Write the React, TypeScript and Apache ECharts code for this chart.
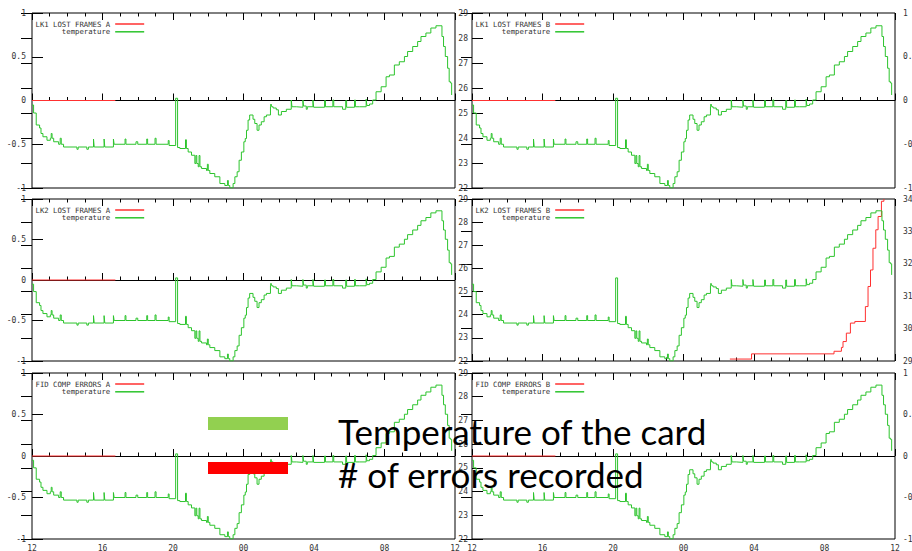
import React, { useEffect, useRef } from 'react';
import * as echarts from 'echarts';

// ---------- data ----------
const hourTickLabels = ['12', '16', '20', '00', '04', '08', '12'];

const panelNames = [
  'LK1 LOST FRAMES A',
  'LK1 LOST FRAMES B',
  'LK2 LOST FRAMES A',
  'LK2 LOST FRAMES B',
  'FID COMP ERRORS A',
  'FID COMP ERRORS B',
];

// hours since 12:00, card temperature (°C)
const temperature: [number, number][] = [
  [0, 25.32], [0.09, 25.0], [0.24, 24.52], [0.43, 24.4], [0.51, 24.18], [0.62, 24.05],
  [0.85, 23.91], [1.04, 23.99], [1.09, 24.18], [1.14, 23.99], [1.23, 23.85], [1.51, 23.75],
  [1.6, 23.99], [1.66, 23.75], [1.79, 23.64], [2.55, 23.55], [2.62, 23.64], [3.11, 23.55],
  [3.2, 23.64], [3.49, 23.96], [3.53, 23.64], [4.09, 23.96], [4.13, 23.64], [4.62, 23.96],
  [4.66, 23.75], [5.28, 23.96], [5.33, 23.75], [5.9, 23.85], [6.0, 23.75], [6.51, 23.96],
  [6.56, 23.75], [6.98, 23.99], [7.04, 23.75], [7.73, 23.9], [7.78, 23.7], [8.15, 25.59],
  [8.26, 23.62], [8.39, 23.58], [8.71, 23.93], [8.76, 23.58], [8.86, 23.44], [9.05, 23.31],
  [9.24, 22.98], [9.3, 23.3], [9.35, 22.98], [9.43, 22.85], [9.48, 23.3], [9.53, 22.85],
  [9.62, 22.78], [9.9, 22.7], [9.95, 22.95], [10.0, 22.7], [10.09, 22.58], [10.37, 22.45],
  [10.66, 22.18], [10.94, 22.1], [11.09, 22.3], [11.14, 22.1], [11.22, 22.0], [11.41, 22.18],
  [11.51, 22.45], [11.64, 22.65], [11.75, 23.11], [11.88, 23.44], [12.02, 23.85], [12.1, 23.98],
  [12.17, 24.31], [12.26, 24.72], [12.35, 24.92], [12.54, 24.75], [12.64, 24.58], [12.77, 24.31],
  [12.88, 24.52], [13.01, 24.65], [13.17, 24.85], [13.3, 24.92], [13.53, 25.25], [13.56, 25.36],
  [13.6, 25.25], [13.68, 25.2], [13.86, 25.13], [13.98, 24.92], [14.15, 25.06], [14.43, 25.15],
  [14.71, 25.52], [14.75, 25.25], [15.0, 25.23], [15.37, 25.52], [15.41, 25.28], [15.56, 25.15],
  [15.62, 25.25], [15.94, 25.52], [15.98, 25.23], [16.6, 25.5], [16.65, 25.25], [17.07, 25.52],
  [17.12, 25.25], [17.62, 25.15], [17.8, 25.5], [17.85, 25.23], [18.3, 25.52], [18.35, 25.25],
  [18.58, 25.25], [18.96, 25.55], [19.0, 25.3], [19.15, 25.36], [19.33, 25.52], [19.52, 25.85],
  [19.81, 26.05], [20.09, 26.45], [20.28, 26.52], [20.56, 26.92], [20.84, 27.05], [21.13, 27.26],
  [21.31, 27.46], [21.6, 27.66], [21.88, 27.86], [22.07, 28.06], [22.35, 28.2], [22.63, 28.4],
  [22.92, 28.49], [23.15, 28.49], [23.26, 28.06], [23.35, 27.66], [23.45, 27.26], [23.58, 26.79],
  [23.67, 26.25], [23.75, 26.2], [23.81, 25.72],
];

// error counters (hours since 12:00, value)
const idleErrors: [number, number][] = [[0, 0], [4.73, 0]];
const lk2LostFramesB: [number, number][] = [
  [14.63, 29.06], [15.86, 29.22], [20.54, 29.3], [20.96, 29.42], [21.05, 29.6], [21.24, 29.86],
  [21.47, 30.17], [21.72, 30.22], [22.32, 30.68], [22.47, 31.3], [22.61, 31.81], [22.75, 32.48],
  [22.91, 33.05], [23.04, 33.46], [23.23, 33.93], [23.37, 34.0],
];

// ---------- layout / style ----------
const colLeft = [32, 472];
const plotW = 423;
const rows = [
  { top: 13, h: 175 },
  { top: 199, h: 162 },
  { top: 373, h: 166 },
];
const GREEN = '#2dc42d';
const RED = '#ff3030';
const labelFont = { fontFamily: 'DejaVu Sans Mono', fontSize: 8, color: '#333' };

function buildOption() {
  const grid: any[] = [];
  const xAxis: any[] = [];
  const yAxis: any[] = [];
  const series: any[] = [];
  const legend: any[] = [];

  panelNames.forEach((name, i) => {
    const r = Math.floor(i / 2);
    const c = i % 2;
    const left = colLeft[c];
    const { top, h } = rows[r];
    grid.push({
      left, top, width: plotW, height: h, show: true, borderColor: '#000', borderWidth: 1,
      backgroundColor: 'transparent', containLabel: false, outerBoundsMode: 'none',
    });

    const xBase = {
      type: 'value', gridIndex: i, min: 0, max: 24, interval: 4,
      axisLine: { show: false },
      axisTick: { show: true, inside: true, length: 7, lineStyle: { color: '#000' } },
      minorTick: { show: true, splitNumber: 4, length: 3.5, lineStyle: { color: '#000' } },
      splitLine: { show: false },
      minorSplitLine: { show: false },
    };
    xAxis.push({
      ...xBase, position: 'bottom',
      axisLabel: {
        show: r === 2, margin: 5, ...labelFont,
        formatter: (v: number) => hourTickLabels[Math.round(v / 4)],
      },
    });
    xAxis.push({ ...xBase, position: 'top', axisLabel: { show: false } });

    const tickStyle = { show: true, inside: true, length: 11, lineStyle: { color: '#000' } };
    const tempAxis = (pos: string, showLabel: boolean) => ({
      type: 'value', gridIndex: i, position: pos, min: 22, max: 29, interval: 1,
      axisLine: { show: false }, axisTick: tickStyle, splitLine: { show: false },
      axisLabel: { show: showLabel, margin: 4, ...labelFont },
    });
    const errAxis = (pos: string, isCount: boolean, margin: number) => ({
      type: 'value', gridIndex: i, position: pos,
      min: isCount ? 29 : -1, max: isCount ? 34 : 1, interval: isCount ? 1 : 0.5,
      axisLine: { show: false }, axisTick: tickStyle, splitLine: { show: false },
      axisLabel: { show: true, margin, ...labelFont },
    });

    const isCount = i === 3;
    let errIdx: number, tempIdx: number;
    if (c === 0) {
      yAxis.push(errAxis('left', false, 6));
      yAxis.push(tempAxis('right', false));
      errIdx = 2 * i; tempIdx = 2 * i + 1;
    } else {
      yAxis.push(tempAxis('left', true));
      yAxis.push(errAxis('right', isCount, 8));
      errIdx = 2 * i + 1; tempIdx = 2 * i;
    }

    series.push({
      name, type: 'line', xAxisIndex: 2 * i, yAxisIndex: errIdx,
      data: isCount ? lk2LostFramesB : idleErrors,
      step: 'end', symbol: 'none', showSymbol: false, z: 3,
      color: RED, lineStyle: { color: RED, width: 1 },
      markLine: isCount ? undefined : {
        silent: true, symbol: ['none', 'none'], z: 1, animation: false,
        label: { show: false },
        lineStyle: { color: '#000', width: 1, type: 'solid' },
        emphasis: { disabled: true },
        data: [{ yAxis: 0 }],
      },
    });
    series.push({
      name: 'temperature', type: 'line', xAxisIndex: 2 * i, yAxisIndex: tempIdx,
      data: temperature, step: 'end', symbol: 'none', showSymbol: false, z: 4,
      color: GREEN, lineStyle: { color: GREEN, width: 1 },
    });

    legend.push({
      orient: 'vertical', left: left + 3.5, top: top + 7.5, align: 'right', padding: 0,
      itemWidth: 29, itemHeight: 1.5, itemGap: 0.8, icon: 'rect', selectedMode: false,
      data: [name, 'temperature'],
      textStyle: { fontFamily: 'DejaVu Sans Mono', fontSize: 7.3, color: '#333' },
    });
  });

  const graphic = [
    { type: 'rect', z: 100, shape: { x: 208, y: 417, width: 80, height: 13 }, style: { fill: '#92d050' } },
    { type: 'rect', z: 100, shape: { x: 208, y: 462, width: 80, height: 12 }, style: { fill: '#ff0000' } },
    { type: 'text', z: 100, x: 338, y: 431, style: { text: 'Temperature of the card', fontFamily: 'Lato', fontSize: 35, fill: '#000', verticalAlign: 'middle' } },
    { type: 'text', z: 100, x: 338, y: 474, style: { text: '# of errors recorded', fontFamily: 'Lato', fontSize: 35, fill: '#000', verticalAlign: 'middle' } },
  ];

  return { animation: false, backgroundColor: '#fff', grid, xAxis, yAxis, series, legend, graphic };
}

export default function App() {
  const ref = useRef<HTMLDivElement>(null);
  useEffect(() => {
    if (!ref.current) return;
    const chart = echarts.init(ref.current, undefined, { renderer: 'svg' });
    chart.setOption(buildOption() as any);
    return () => chart.dispose();
  }, []);
  return <div ref={ref} style={{ position: 'absolute', left: 0, top: 0, width: 912, height: 551 }} />;
}
